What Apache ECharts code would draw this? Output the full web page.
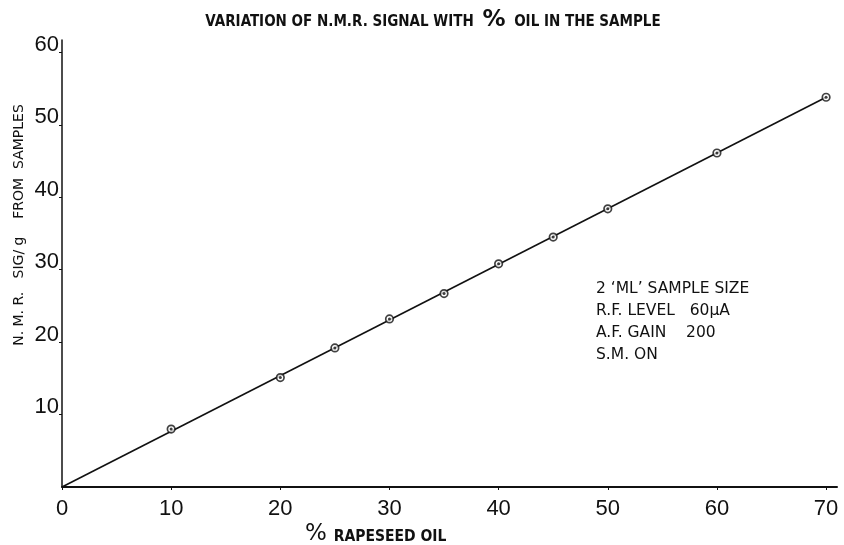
<!DOCTYPE html>
<html>
<head>
<meta charset="utf-8">
<script src="https://cdn.jsdelivr.net/npm/echarts@6/dist/echarts.min.js"></script>
<style>
  html, body { margin: 0; padding: 0; background: #fff; }
  #chart { width: 844px; height: 545px; }
</style>
</head>
<body>
<div id="chart"></div>
<script>
  // % rapeseed oil in sample and measured N.M.R. signal per gram
  const oilPct = [10, 20, 25, 30, 35, 40, 45, 50, 60, 70];
  const nmrSignal = [8.0, 15.1, 19.2, 23.2, 26.7, 30.8, 34.5, 38.4, 46.1, 53.8];
  // hand-drawn straight line through the origin
  const fitX = [0, 70];
  const fitY = [0, 53.8];
  const notes = ["2 \u2018ML\u2019 SAMPLE SIZE", "R.F. LEVEL   60\u00b5A", "A.F. GAIN    200", "S.M. ON"];

  const chart = echarts.init(document.getElementById("chart"));
  const ink = "#111";

  const option = {
    backgroundColor: "#fff",
    animation: false,
    title: {
      text: "VARIATION OF N.M.R. SIGNAL WITH {p|%} OIL IN THE SAMPLE",
      left: 428,
      textAlign: "center",
      top: 4,
      textStyle: {
        fontFamily: "DejaVu Sans Condensed",
        fontWeight: "bold",
        fontSize: 15,
        color: ink,
        rich: {
          p: { fontFamily: "DejaVu Sans", fontSize: 23, color: ink, padding: [0, 4, 4, 4] }
        }
      }
    },
    grid: { left: 62, right: 7, top: 40, bottom: 58, outerBoundsMode: "none", containLabel: false },
    xAxis: {
      type: "value",
      min: 0,
      max: 71,
      interval: 10,
      axisLine: { lineStyle: { color: ink, width: 2 } },
      axisTick: { show: true, length: 3, lineStyle: { color: ink } },
      splitLine: { show: false },
      axisLabel: {
        showMaxLabel: false,
        margin: 11,
        fontFamily: "Liberation Sans",
        fontSize: 22,
        color: ink
      }
    },
    yAxis: {
      type: "value",
      min: 0,
      max: 61.7,
      interval: 10,
      axisLine: { show: true, lineStyle: { color: ink, width: 1.5 } },
      axisTick: { show: true, length: 3, lineStyle: { color: ink } },
      splitLine: { show: false },
      axisLabel: {
        showMinLabel: false,
        showMaxLabel: false,
        margin: 3,
        verticalAlign: "bottom",
        fontFamily: "Liberation Sans",
        fontSize: 22,
        color: ink,
        lineHeight: 15
      }
    },
    series: [
      {
        name: "line",
        type: "line",
        data: fitX.map((x, i) => [x, fitY[i]]),
        symbol: "none",
        lineStyle: { color: ink, width: 1.6 },
        z: 2
      },
      {
        name: "samples",
        type: "scatter",
        data: oilPct.map((x, i) => [x, nmrSignal[i]]),
        symbol: "circle",
        symbolSize: 7.5,
        itemStyle: { color: "#fff", borderColor: ink, borderWidth: 1.7 },
        z: 3
      },
      {
        name: "samplesDot",
        type: "scatter",
        data: oilPct.map((x, i) => [x, nmrSignal[i]]),
        symbol: "circle",
        symbolSize: 3,
        itemStyle: { color: ink },
        z: 4
      }
    ],
    graphic: [
      // x axis name
      {
        type: "text",
        left: 305,
        top: 523,
        style: {
          text: "{p|%} RAPESEED OIL",
          fontFamily: "DejaVu Sans Condensed",
          fontWeight: "bold",
          fontSize: 15.5,
          fill: ink,
          rich: {
            p: { fontFamily: "DejaVu Sans", fontSize: 23, fill: ink, padding: [0, 2, 4, 0] }
          }
        }
      },
      // y axis name
      {
        type: "text",
        x: 19,
        y: 225,
        rotation: Math.PI / 2,
        style: {
          text: "N. M. R.   SIG/ g    FROM  SAMPLES",
          fontFamily: "DejaVu Sans",
          fontSize: 14,
          fill: ink,
          align: "center",
          verticalAlign: "middle"
        }
      }
    ].concat(notes.map((t, i) => ({
      type: "text",
      left: 596,
      top: 281 + i * 22,
      style: {
        text: t,
        fontFamily: "DejaVu Sans",
        fontSize: 15.5,
        fill: ink
      }
    })))
  };

  chart.setOption(option);
</script>
</body>
</html>
